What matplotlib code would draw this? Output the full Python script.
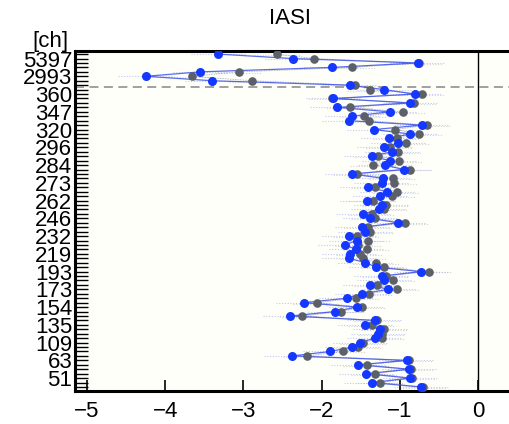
import matplotlib
matplotlib.use("Agg")
import matplotlib.pyplot as plt
import numpy as np

plt.rcParams['font.family'] = ['Liberation Sans', 'DejaVu Sans']

# channel positions (bottom -> top) and labelled channels
n_channels = 76
label_positions = [2, 6, 10, 14, 18, 22, 26, 30, 34, 38, 42, 46, 50, 54, 58, 62, 66, 70, 74]
channel_labels = ["51", "63", "109", "135", "154", "173", "193", "219", "232", "246",
                  "262", "273", "284", "296", "320", "347", "360", "2993", "5397"]

# values, bottom (index 0) to top (index 75)
blue_vals = [-0.73, -1.36, -0.87, -1.43, -0.88, -1.53, -0.91, -2.38, -1.89, -1.61,
             -1.51, -1.32, -1.28, -1.25, -1.44, -1.32, -2.40, -1.83, -1.55, -2.23,
             -1.68, -1.48, -1.15, -1.38, -1.20, -1.23, -0.73, -1.30, -1.44, -1.65,
             -1.64, -1.56, -1.70, -1.55, -1.65, -1.44, -1.48, -1.02, -1.38, -1.47,
             -1.27, -1.23, -1.42, -1.25, -1.16, -1.41, -1.23, -1.21, -1.61, -0.95,
             -1.19, -1.13, -1.36, -1.10, -1.20, -1.02, -1.14, -0.87, -1.33, -0.72,
             -1.65, -1.61, -1.13, -1.80, -0.87, -1.85, -0.81, -1.20, -1.64, -3.40,
             -4.25, -3.55, -1.87, -0.77, -2.37, -3.32]
gray_vals = [-0.70, -1.25, -0.84, -1.32, -0.86, -1.42, -0.88, -2.19, -1.73, -1.53,
             -1.47, -1.23, -1.23, -1.20, -1.36, -1.29, -2.25, -1.75, -1.48, -2.06,
             -1.56, -1.39, -1.04, -1.29, -1.09, -1.18, -0.63, -1.20, -1.30, -1.47,
             -1.51, -1.42, -1.53, -1.41, -1.55, -1.38, -1.41, -0.93, -1.32, -1.36,
             -1.20, -1.18, -1.34, -1.10, -1.04, -1.32, -1.07, -1.09, -1.55, -0.87,
             -1.34, -1.01, -1.28, -1.02, -1.13, -0.92, -1.04, -0.75, -1.06, -0.65,
             -1.39, -1.46, -0.96, -1.64, -0.82, -1.87, -0.72, -1.38, -1.57, -2.89,
             -3.66, -3.06, -1.61, -0.75, -2.10, -2.57]
separator = 67.5
x_ticks = [-5, -4, -3, -2, -1, 0]

fig = plt.figure(figsize=(5.10, 4.24), dpi=100)
ax = fig.add_axes([75/510, 33/424, 465/510, 340/424])
ax.set_facecolor('#fffffa')

y = np.arange(n_channels)
blue = np.array(blue_vals)
gray = np.array(gray_vals)

# faint dotted spread lines
for yy, b in zip(y, blue):
    ax.plot([b - 0.35, b + 0.35], [yy, yy], color='#8890e8', lw=0.8, ls=(0, (1, 1.5)), alpha=0.5, zorder=1)
for yy, g in zip(y, gray):
    ax.plot([g - 0.3, g + 0.3], [yy - 0.2, yy - 0.2], color='#aaaaaa', lw=0.8, ls=(0, (1, 1.5)), alpha=0.5, zorder=1)

ax.plot(gray, y, color='#7a7a90', lw=0.6, ls=(0, (1, 1)), alpha=0.7, zorder=2)
ax.plot(blue, y, color='#3048e8', lw=0.9, alpha=0.8, zorder=3)
ax.plot(gray, y, 'o', color='#5c6068', ms=6.2, mec='none', zorder=4)
ax.plot(blue, y, 'o', color='#1438ff', ms=6.5, mec='none', zorder=5)

ax.axhline(separator, color='#999999', lw=1.3, ls=(0, (5, 3)), zorder=2)
ax.axvline(0, color='black', lw=1.0, zorder=2)

ax.set_xlim(-5.153, (540 - 478) / 78.2)
ax.set_ylim(-0.9, 75.7)

ax.set_xticks(x_ticks)
ax.set_xticklabels(['\u22125', '\u22124', '\u22123', '\u22122', '\u22121', '0'])
ax.set_yticks(label_positions)
ax.set_yticklabels(channel_labels)
ax.set_yticks(y, minor=True)

ax.tick_params(axis='x', direction='in', length=8, width=1.2, labelsize=16, pad=7)
ax.tick_params(axis='y', which='both', direction='in', length=9, width=1.0, labelsize=16, pad=2)

for s in ['left', 'bottom', 'top']:
    ax.spines[s].set_linewidth(2.2)
ax.spines['right'].set_visible(False)

fig.text(290/510, 1 - 18/424, 'IASI', ha='center', va='center', fontsize=16)
fig.text(50/510, 1 - 41/424, '[ch]', ha='center', va='center', fontsize=16)

fig.savefig('out.png', dpi=100)
